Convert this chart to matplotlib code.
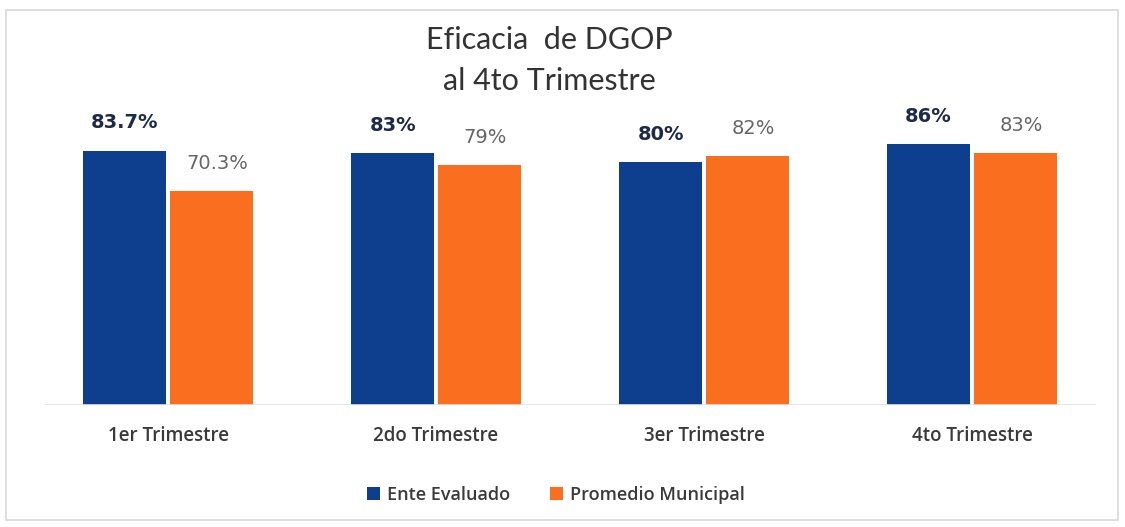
import matplotlib
matplotlib.use("Agg")
import matplotlib.pyplot as plt
from matplotlib.patches import Rectangle
import numpy as np

categories = ["1er Trimestre", "2do Trimestre", "3er Trimestre", "4to Trimestre"]
ente = [83.7, 83, 80, 86]
promedio = [70.3, 79, 82, 83]
ente_labels = ["83.7%", "83%", "80%", "86%"]
promedio_labels = ["70.3%", "79%", "82%", "83%"]

BLUE = "#0E3E8E"
ORANGE = "#F96E1F"

fig = plt.figure(figsize=(11.25, 5.27), dpi=100)
ax = fig.add_axes([34 / 1125, 122 / 527, 1072 / 1125, 304 / 527])

x = np.arange(len(categories))
width = 0.31
off = 0.162
b1 = ax.bar(x - off, ente, width, color=BLUE, label="Ente Evaluado")
b2 = ax.bar(x + off, promedio, width, color=ORANGE, label="Promedio Municipal")

for rect, lab in zip(b1, ente_labels):
    ax.annotate(lab, (rect.get_x() + rect.get_width() / 2, rect.get_height()),
                xytext=(0, 13), textcoords="offset points", ha="center", va="bottom",
                fontsize=14, fontweight="bold", color="#1E2B48", family="DejaVu Sans")
for rect, lab in zip(b2, promedio_labels):
    ax.annotate(lab, (rect.get_x() + rect.get_width() / 2, rect.get_height()),
                xytext=(4, 13), textcoords="offset points", ha="center", va="bottom",
                fontsize=14, color="#666666", family="DejaVu Sans")

ax.set_xlim(-0.5, 3.5)
ax.set_ylim(0, 100)
ax.set_yticks([])
ax.set_xticks(x)
ax.set_xticklabels(categories, fontsize=13.5, color="#3a3a3a", family="Open Sans",
                   fontweight="semibold")
ax.tick_params(axis="x", length=0, pad=15)
for s in ax.spines.values():
    s.set_visible(False)
ax.axhline(0, color="#e2e2e2", lw=1.2, xmin=0.01, xmax=0.99)

fig.text(549 / 1125, 1 - 40 / 527, "Eficacia  de DGOP", ha="center", va="center",
         fontsize=22, color="#333333", family="Lato")
fig.text(549 / 1125, 1 - 81 / 527, "al 4to Trimestre", ha="center", va="center",
         fontsize=22, color="#333333", family="Lato")

fig.legend(handles=[b1, b2], loc="center", bbox_to_anchor=(556 / 1125, 1 - 495 / 527),
           ncol=2, frameon=False, handlelength=0.7, handleheight=0.7,
           handletextpad=0.4, columnspacing=2.2,
           prop={"family": "Open Sans", "size": 13, "weight": "semibold"})
for t in fig.legends[0].get_texts():
    t.set_color("#3a3a3a")

fig.patches.append(Rectangle((6 / 1125, 7 / 527), 1112 / 1125, 510 / 527,
                             transform=fig.transFigure, fill=False,
                             edgecolor="#d9d9d9", lw=1.2))

fig.savefig("out.png", dpi=100)
